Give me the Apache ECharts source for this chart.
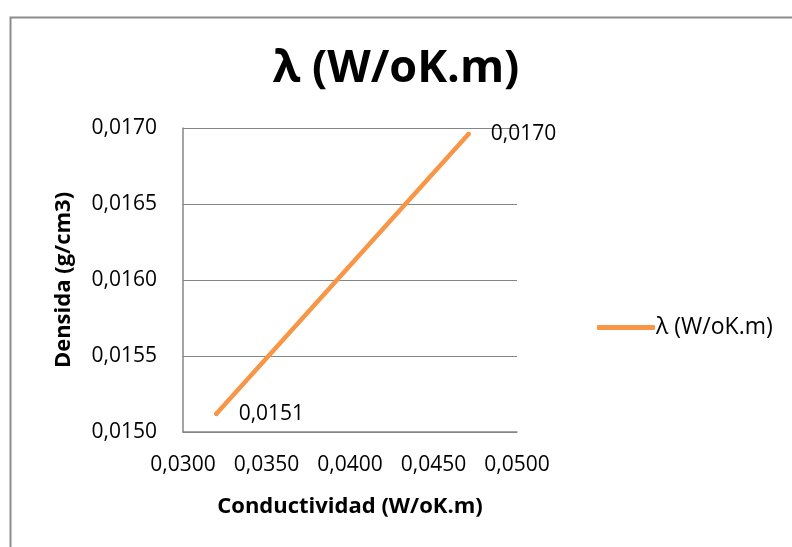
<!DOCTYPE html>
<html>
<head>
<meta charset="utf-8">
<script src="https://cdn.jsdelivr.net/npm/echarts@6/dist/echarts.min.js"></script>
<style>
  html, body { margin: 0; padding: 0; background: #fff; }
  #chart { width: 792px; height: 547px; }
</style>
</head>
<body>
<div id="chart"></div>
<script>
// Conductivity (x) vs density (y) readings
const conductividad = [0.0320, 0.0471];
const densidad = [0.01512, 0.01696];
const seriesName = 'λ (W/oK.m)';
const xTicks = { min: 0.03, max: 0.05, step: 0.005 };
const yTicks = { min: 0.015, max: 0.017, step: 0.0005 };

const FONT = 'Open Sans';
const ORANGE = '#F79646';
const fmt = v => Number(v).toFixed(4).replace('.', ',');

const chart = echarts.init(document.getElementById('chart'), null, { renderer: 'canvas' });
chart.setOption({
  backgroundColor: '#ffffff',
  animation: false,
  graphic: [{
    type: 'rect',
    left: 8, top: 15,
    shape: { width: 900, height: 700 },
    style: { fill: 'none', stroke: '#8c8c8c', lineWidth: 2 },
    z: -1
  }],
  title: {
    text: seriesName,
    left: 'center',
    top: 42,
    textStyle: { fontFamily: FONT, fontWeight: 'bold', fontSize: 45, color: '#000' }
  },
  legend: {
    data: [seriesName],
    left: 592, top: 311,
    icon: 'roundRect',
    itemWidth: 58, itemHeight: 5,
    itemGap: 0,
    textStyle: { fontFamily: FONT, fontSize: 23, color: '#000', padding: [0, 0, 0, -4] }
  },
  grid: { left: 183, right: 275, top: 128, bottom: 115, containLabel: false },
  xAxis: {
    type: 'value',
    min: xTicks.min, max: xTicks.max, interval: xTicks.step,
    name: 'Conductividad (W/oK.m)',
    nameLocation: 'middle',
    nameGap: 64,
    nameTextStyle: { fontFamily: FONT, fontWeight: 'bold', fontSize: 22, color: '#000' },
    axisLine: { show: true, lineStyle: { color: '#868686', width: 1.5 } },
    axisTick: { show: false },
    splitLine: { show: false },
    axisLabel: { formatter: fmt, fontFamily: FONT, fontSize: 21, color: '#000', margin: 23 }
  },
  yAxis: {
    type: 'value',
    min: yTicks.min, max: yTicks.max, interval: yTicks.step,
    name: 'Densida (g/cm3)',
    nameLocation: 'middle',
    nameGap: 108,
    nameTextStyle: { fontFamily: FONT, fontWeight: 'bold', fontSize: 22, color: '#000' },
    axisLine: { show: true, lineStyle: { color: '#868686', width: 1.5 } },
    axisTick: { show: false },
    splitLine: { show: true, lineStyle: { color: '#868686', width: 1 } },
    axisLabel: { formatter: fmt, fontFamily: FONT, fontSize: 21, color: '#000', margin: 26 }
  },
  series: [{
    name: seriesName,
    type: 'line',
    data: conductividad.map((x, i) => [x, densidad[i]]),
    showSymbol: true,
    symbol: 'circle',
    symbolSize: 4.5,
    lineStyle: { color: ORANGE, width: 4.5, cap: 'round' },
    itemStyle: { color: ORANGE, borderWidth: 0 },
    label: {
      show: true,
      position: 'right',
      distance: 20,
      formatter: p => fmt(p.value[1]),
      fontFamily: FONT, fontSize: 21, color: '#000'
    }
  }]
});
</script>
</body>
</html>
